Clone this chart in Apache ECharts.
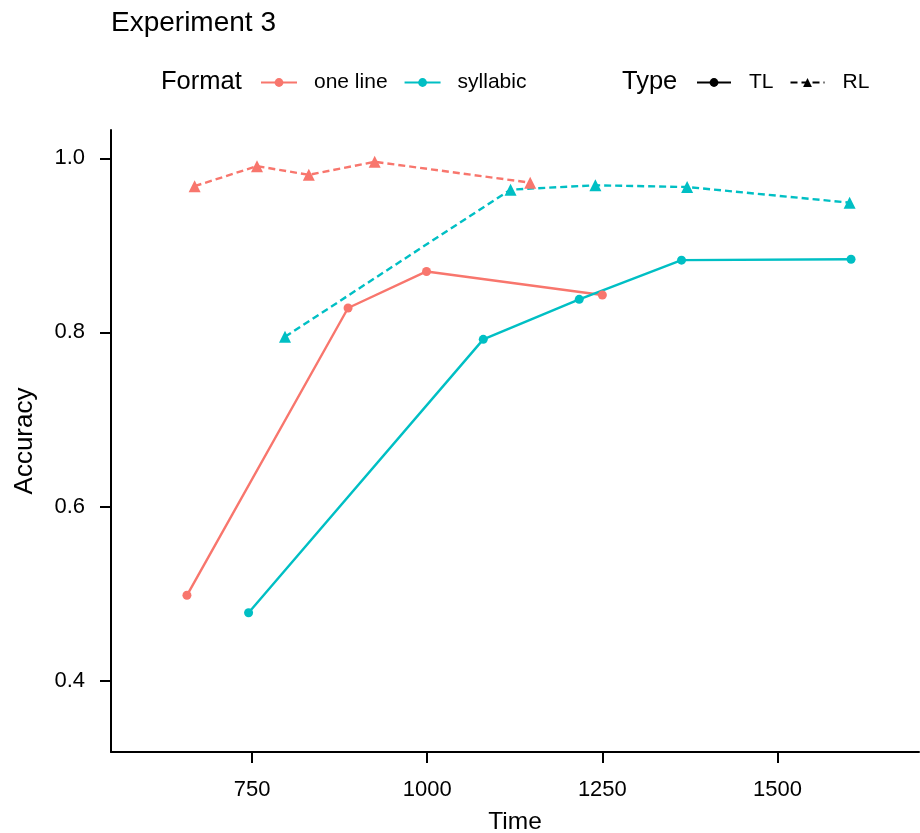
<!DOCTYPE html>
<html>
<head>
<meta charset="utf-8">
<script src="https://cdn.jsdelivr.net/npm/echarts@6/dist/echarts.min.js"></script>
<style>
  html, body { margin: 0; padding: 0; background: #fff; }
  #chart { width: 920px; height: 833px; }
</style>
</head>
<body>
<div id="chart"></div>
<script>
// values
var timeOneLineTL = [657, 887, 999, 1250];
var accOneLineTL = [0.498, 0.828, 0.870, 0.843];
var timeSyllabicTL = [745, 1080, 1217, 1363, 1605];
var accSyllabicTL = [0.478, 0.792, 0.838, 0.883, 0.884];
var timeOneLineRL = [668, 757, 831, 925, 1147];
var accOneLineRL = [0.968, 0.991, 0.981, 0.996, 0.972];
var timeSyllabicRL = [797, 1119, 1240, 1371, 1603];
var accSyllabicRL = [0.795, 0.964, 0.969, 0.967, 0.949];

var xTicks = [750, 1000, 1250, 1500];
var yTicks = [0.4, 0.6, 0.8, 1.0];

var RED = '#F8766D', CYAN = '#00BFC4';
var FONT = 'Liberation Sans';

function pairs(xs, ys) {
    return xs.map(function (x, i) { return [x, ys[i]]; });
}

function lineSeries(name, xs, ys, color, dashed) {
    return {
        name: name,
        type: 'line',
        data: pairs(xs, ys),
        symbol: dashed ? 'triangle' : 'circle',
        symbolSize: dashed ? 12 : 9,
        showSymbol: true,
        silent: true,
        itemStyle: { color: color },
        lineStyle: { color: color, width: 2.4, type: dashed ? [7, 4] : 'solid' },
        z: 3
    };
}

// empty series, only there to give the legend its keys
function keySeries(name, color, dashed) {
    return lineSeries(name, [], [], color, dashed);
}

var myChart = echarts.init(document.getElementById('chart'));

var option = {
    backgroundColor: '#ffffff',
    animation: false,
    textStyle: { fontFamily: FONT },
    title: [{
        text: 'Experiment 3',
        left: 111, top: 9, padding: 0,
        textStyle: { fontFamily: FONT, fontWeight: 'normal', fontSize: 28, color: '#000' }
    }, {
        text: 'Format',
        left: 161, top: 69, padding: 0,
        textStyle: { fontFamily: FONT, fontWeight: 'normal', fontSize: 25.5, color: '#000' }
    }, {
        text: 'Type',
        left: 622, top: 69, padding: 0,
        textStyle: { fontFamily: FONT, fontWeight: 'normal', fontSize: 25.5, color: '#000' }
    }],
    legend: [{
        data: ['one line', 'syllabic'],
        left: 260, top: 72, padding: 0,
        itemWidth: 36, itemHeight: 11, itemGap: 16,
        selectedMode: false,
        textStyle: { fontFamily: FONT, fontSize: 21, color: '#000', padding: [0, 0, 0, 12] }
    }, {
        data: ['TL', 'RL'],
        left: 696, top: 72, padding: 0,
        itemWidth: 34, itemHeight: 11, itemGap: 16,
        selectedMode: false,
        textStyle: { fontFamily: FONT, fontSize: 21, color: '#000', padding: [0, 0, 0, 13] }
    }],
    grid: { left: 111, right: 1, top: 130, bottom: 81, containLabel: false, outerBoundsMode: 'none' },
    xAxis: {
        type: 'value',
        min: 548.6, max: 1702,
        name: 'Time',
        nameLocation: 'middle',
        nameGap: 58,
        nameTextStyle: { fontFamily: FONT, fontSize: 24.5, color: '#000' },
        axisLine: { show: true, lineStyle: { color: '#000', width: 2 } },
        axisTick: { show: true, length: 11, lineStyle: { color: '#000', width: 2 }, customValues: xTicks },
        axisLabel: {
            customValues: xTicks, margin: 27, fontFamily: FONT, fontSize: 22, color: '#000',
            formatter: function (v) { return String(v); }
        },
        splitLine: { show: false }
    },
    yAxis: {
        type: 'value',
        min: 0.318, max: 1.0325,
        name: 'Accuracy',
        nameLocation: 'middle',
        nameGap: 73,
        nameTextStyle: { fontFamily: FONT, fontSize: 26, color: '#000' },
        axisLine: { show: true, lineStyle: { color: '#000', width: 2 } },
        axisTick: { show: true, length: 11, lineStyle: { color: '#000', width: 2 }, customValues: yTicks },
        axisLabel: {
            customValues: yTicks, margin: 26, fontFamily: FONT, fontSize: 22, color: '#000',
            formatter: function (v) { return v.toFixed(1); }
        },
        splitLine: { show: false }
    },
    series: [
        lineSeries('one line TL', timeOneLineTL, accOneLineTL, RED, false),
        lineSeries('syllabic TL', timeSyllabicTL, accSyllabicTL, CYAN, false),
        lineSeries('one line RL', timeOneLineRL, accOneLineRL, RED, true),
        lineSeries('syllabic RL', timeSyllabicRL, accSyllabicRL, CYAN, true),
        keySeries('one line', RED, false),
        keySeries('syllabic', CYAN, false),
        keySeries('TL', '#000', false),
        keySeries('RL', '#000', true)
    ]
};

myChart.setOption(option);
</script>
</body>
</html>
